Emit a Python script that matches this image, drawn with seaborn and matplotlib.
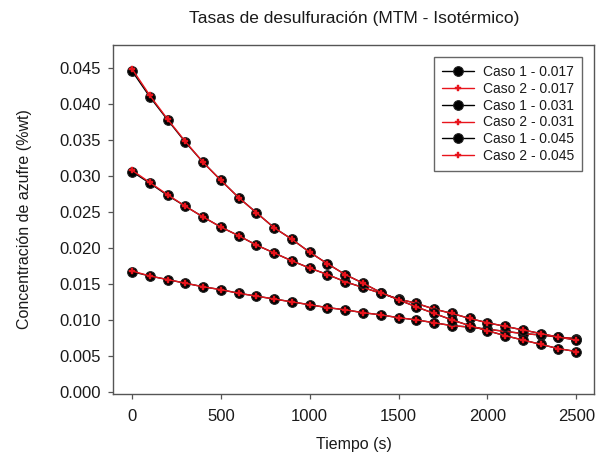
import matplotlib
matplotlib.use("Agg")
import matplotlib.pyplot as plt
import seaborn as sns
import pandas as pd

# Time axis (s)
tiempo = [0, 100, 200, 300, 400, 500, 600, 700, 800, 900, 1000, 1100, 1200,
          1300, 1400, 1500, 1600, 1700, 1800, 1900, 2000, 2100, 2200, 2300,
          2400, 2500]

# Sulfur concentration (%wt), case 1
caso1_017 = [0.0167, 0.0161, 0.0156, 0.0151, 0.0146, 0.0142, 0.0137, 0.0133,
             0.0129, 0.0125, 0.0121, 0.0117, 0.0114, 0.0110, 0.0107, 0.0103,
             0.0100, 0.0096, 0.0092, 0.0090, 0.0087, 0.0084, 0.0081, 0.0079,
             0.0076, 0.0074]
caso1_031 = [0.0306, 0.0290, 0.0273, 0.0258, 0.0243, 0.0229, 0.0217, 0.0204,
             0.0193, 0.0182, 0.0172, 0.0163, 0.0153, 0.0145, 0.0137, 0.0129,
             0.0123, 0.0115, 0.0109, 0.0102, 0.0096, 0.0091, 0.0086, 0.0081,
             0.0076, 0.0072]
caso1_045 = [0.0446, 0.0410, 0.0378, 0.0347, 0.0319, 0.0294, 0.0270, 0.0249,
             0.0228, 0.0212, 0.0194, 0.0178, 0.0163, 0.0151, 0.0138, 0.0128,
             0.0118, 0.0109, 0.0100, 0.0092, 0.0085, 0.0078, 0.0072, 0.0066,
             0.0060, 0.0056]

# Sulfur concentration (%wt), case 2
caso2_017 = [0.0168, 0.0161, 0.0156, 0.0151, 0.0146, 0.0142, 0.0137, 0.0133,
             0.0129, 0.0125, 0.0121, 0.0117, 0.0114, 0.0110, 0.0107, 0.0103,
             0.0100, 0.0096, 0.0092, 0.0090, 0.0087, 0.0084, 0.0081, 0.0079,
             0.0076, 0.0074]
caso2_031 = [0.0308, 0.0291, 0.0274, 0.0258, 0.0243, 0.0229, 0.0217, 0.0204,
             0.0193, 0.0182, 0.0172, 0.0163, 0.0153, 0.0145, 0.0137, 0.0129,
             0.0123, 0.0115, 0.0109, 0.0102, 0.0096, 0.0091, 0.0086, 0.0081,
             0.0076, 0.0072]
caso2_045 = [0.0449, 0.0412, 0.0379, 0.0348, 0.0319, 0.0294, 0.0270, 0.0249,
             0.0228, 0.0212, 0.0194, 0.0178, 0.0163, 0.0151, 0.0138, 0.0128,
             0.0118, 0.0109, 0.0100, 0.0092, 0.0085, 0.0078, 0.0072, 0.0066,
             0.0060, 0.0056]

series = [
    ("Caso 1 - 0.017", caso1_017, 1),
    ("Caso 2 - 0.017", caso2_017, 2),
    ("Caso 1 - 0.031", caso1_031, 1),
    ("Caso 2 - 0.031", caso2_031, 2),
    ("Caso 1 - 0.045", caso1_045, 1),
    ("Caso 2 - 0.045", caso2_045, 2),
]

sns.set_style("ticks")
plt.rcParams["font.family"] = ["Liberation Sans", "DejaVu Sans"]

fig = plt.figure(figsize=(5.96, 4.57), dpi=100)
ax = fig.add_axes([0.1896, 0.1379, 0.8070, 0.7636])

for label, values, caso in series:
    df = pd.DataFrame({"Tiempo": tiempo, "Conc": values})
    if caso == 1:
        sns.lineplot(data=df, x="Tiempo", y="Conc", ax=ax, color="black",
                     linewidth=1.0, marker="o", markersize=7,
                     markerfacecolor="black", markeredgecolor="#222222",
                     label=label)
    else:
        sns.lineplot(data=df, x="Tiempo", y="Conc", ax=ax, color="#e8141c",
                     linewidth=1.0, marker="P", markersize=4.5,
                     markerfacecolor="#e8141c", markeredgecolor="#e8141c",
                     markeredgewidth=0.3, label=label)

ax.set_xlim(-107, 2600)
ax.set_ylim(-0.0003, 0.0482)
ax.set_xticks([0, 500, 1000, 1500, 2000, 2500])
ax.set_yticks([0.000, 0.005, 0.010, 0.015, 0.020, 0.025, 0.030, 0.035,
               0.040, 0.045])
ax.set_yticklabels([f"{v:.3f}" for v in ax.get_yticks()])

text_color = "#1a1a1a"
for side in ["left", "right", "top", "bottom"]:
    ax.spines[side].set_visible(True)
    ax.spines[side].set_color("#555555")
    ax.spines[side].set_linewidth(1.0)
ax.tick_params(axis="both", direction="out", length=3.5, width=0.9,
               color="#555555", labelsize=12, labelcolor=text_color)
ax.tick_params(axis="y", pad=5)
ax.tick_params(axis="x", pad=7)

ax.set_xlabel("Tiempo (s)", fontsize=11.5, color=text_color, labelpad=10)
ax.set_ylabel("Concentración de azufre (%wt)", fontsize=11.5,
              color=text_color, labelpad=20)
fig.text(0.5935, 0.960, "Tasas de desulfuración (MTM - Isotérmico)",
         ha="center", va="center", fontsize=12.5, color=text_color)

leg = ax.legend(loc="upper right", fontsize=10, frameon=True, fancybox=False,
                edgecolor="#666666", framealpha=1, labelspacing=0.2,
                handlelength=2.3, borderaxespad=0.85, handletextpad=0.6,
                borderpad=0.6)
leg.get_frame().set_linewidth(1.0)
for t in leg.get_texts():
    t.set_color(text_color)

fig.savefig("out.png", dpi=100)
